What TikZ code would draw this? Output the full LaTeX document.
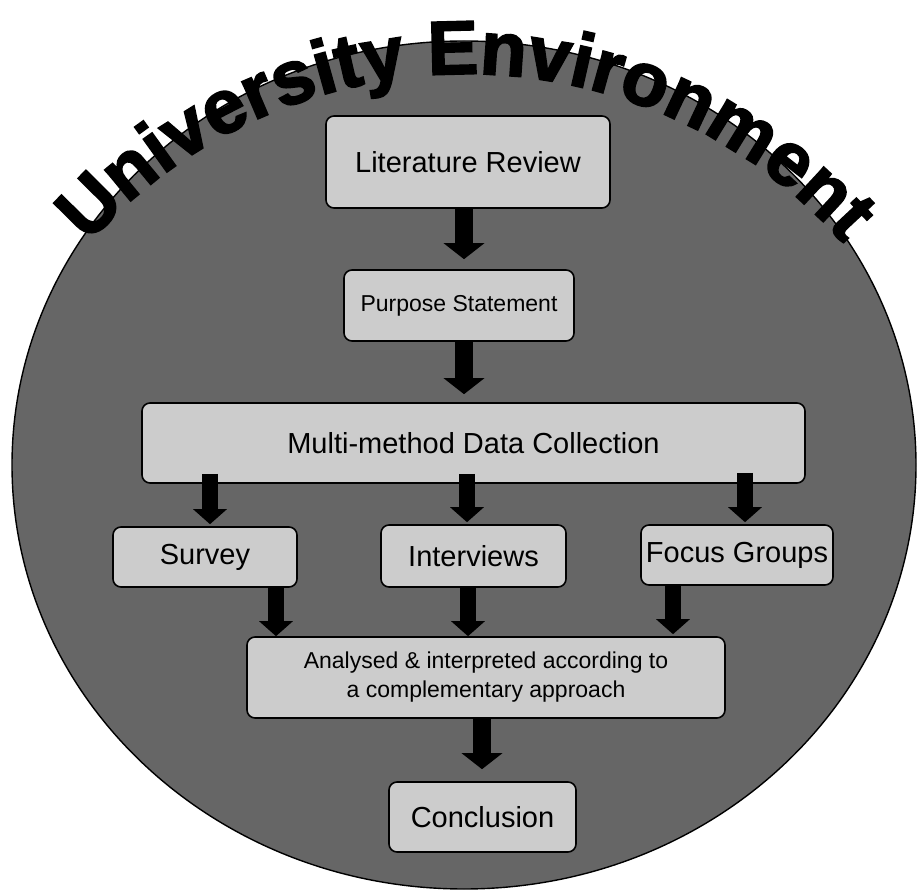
\documentclass[tikz,border=0pt]{standalone}
\usepackage{fontspec}
\setmainfont{Liberation Sans}
\newfontfamily\heavyfamily[FakeBold=2.5]{Liberation Sans Bold}
\usetikzlibrary{arrows.meta,decorations.text}
\definecolor{discgrey}{RGB}{102,102,102}
\definecolor{boxgrey}{RGB}{204,204,204}
\newcommand\titlefont{\fontsize{76}{80}\heavyfamily}
\begin{document}
\begin{tikzpicture}[x=1pt,y=1pt,
  stage/.style={draw=black, line width=1.6pt, rounded corners=8pt, fill=boxgrey,
    inner sep=0pt, align=center, font=\fontsize{29}{33}\selectfont},
  smallstage/.style={stage, font=\fontsize{23}{29}\selectfont},
  flow/.style={draw=black, line width=18pt, -{Triangle[length=16pt,width=40pt]}},
  subflow/.style={draw=black, line width=16pt, -{Triangle[length=15pt,width=33pt]}}]
\useasboundingbox (0,0) rectangle (918,892);
\fill[white] (0,0) rectangle (918,892);

% the disc
\draw[fill=discgrey, line width=1.4pt] (464,427) ellipse [x radius=452, y radius=424];

% curved title over the disc
\path[decorate, decoration={text along path, text align=center,
    text={|\titlefont|University Environment}}]
  (466,313) ++(150:505) arc[start angle=150, end angle=30, radius=505];

% stages
\node[stage, minimum width=284, minimum height=92] (lit) at (468,730) {Literature Review};
\node[smallstage, minimum width=230, minimum height=71] (purpose) at (459,586.5) {Purpose Statement};
\node[stage, minimum width=663, minimum height=80] (multi) at (473.5,449) {Multi-method Data Collection};
\node[stage, minimum width=184, minimum height=60] (survey) at (205,335) {Survey};
\node[stage, minimum width=185, minimum height=62] (interviews) at (473.5,336) {Interviews};
\node[stage, minimum width=192, minimum height=60] (focus) at (737,337) {Focus Groups};
\node[smallstage, minimum width=478, minimum height=81] (analysed) at (486,214.5)
  {Analysed \& interpreted according to\\a complementary approach};
\node[stage, minimum width=187, minimum height=70] (conclusion) at (482.5,75) {Conclusion};

% connectors
\draw[flow] ([xshift=-4pt]lit.south) -- ([xshift=5pt,yshift=10pt]purpose.north);
\draw[flow] ([xshift=5pt]purpose.south) -- ([xshift=-9.5pt,yshift=8pt]multi.north);
\draw[subflow] ([xshift=-263.5pt,yshift=10pt]multi.south) -- ([xshift=5pt,yshift=2pt]survey.north);
\draw[subflow] ([xshift=-6.5pt,yshift=10pt]multi.south) -- ([xshift=-6.5pt,yshift=2pt]interviews.north);
\draw[subflow] ([xshift=271.5pt,yshift=11pt]multi.south) -- ([xshift=8pt,yshift=2pt]focus.north);
\draw[subflow] ([xshift=71pt]survey.south) -- ([xshift=-210pt]analysed.north);
\draw[subflow] ([xshift=-5.5pt]interviews.south) -- ([xshift=-18pt]analysed.north);
\draw[subflow] ([xshift=-64pt]focus.south) -- ([xshift=187pt,yshift=2pt]analysed.north);
\draw[flow] ([xshift=-4pt]analysed.south) -- ([xshift=-0.5pt,yshift=12pt]conclusion.north);
\end{tikzpicture}
\end{document}
